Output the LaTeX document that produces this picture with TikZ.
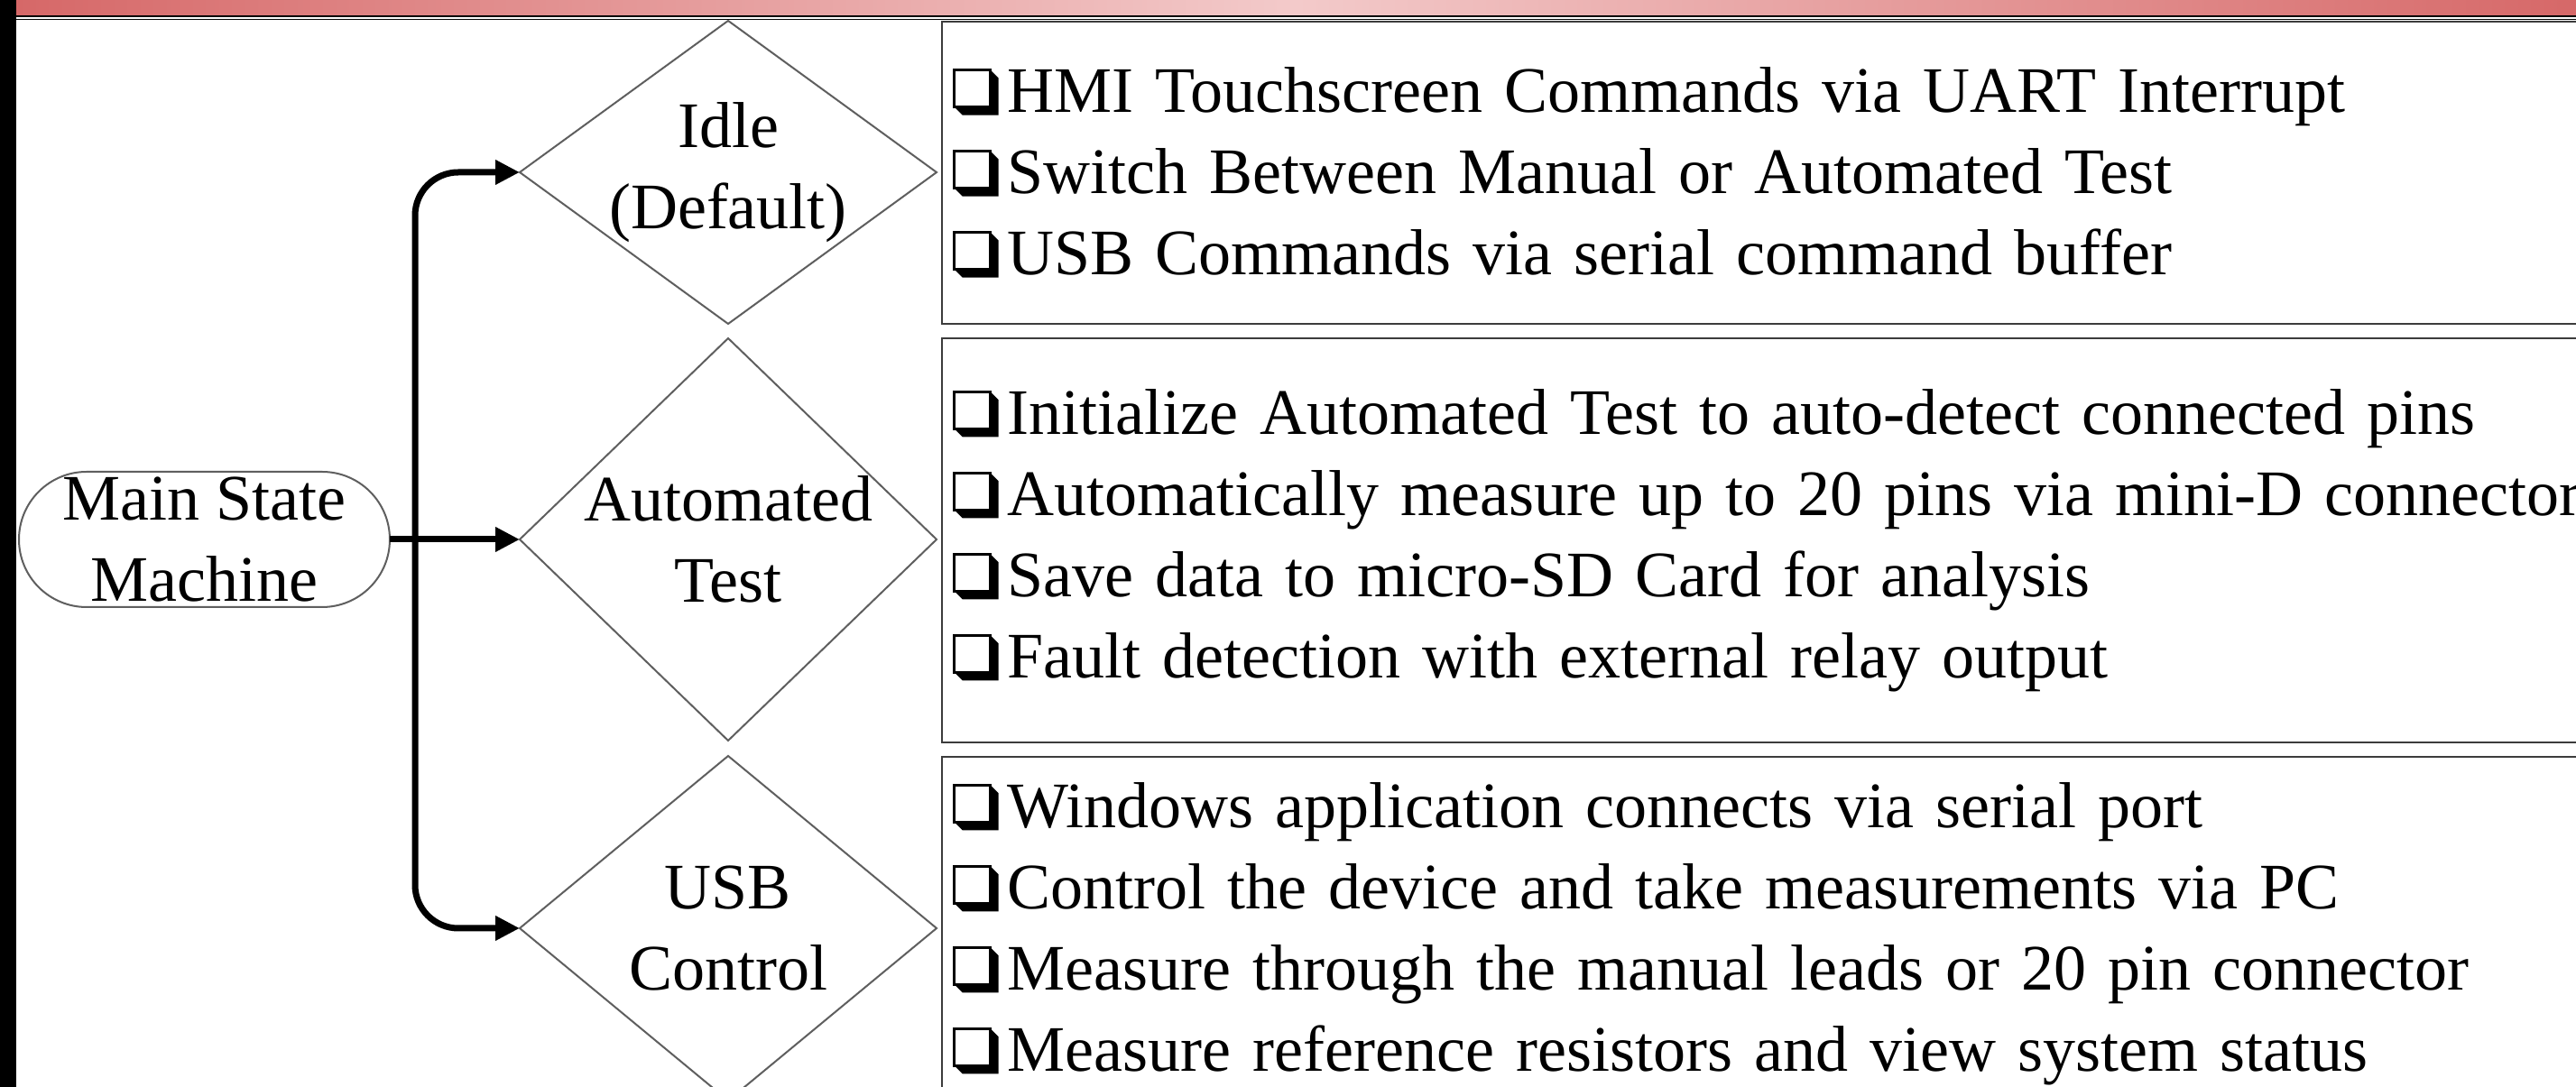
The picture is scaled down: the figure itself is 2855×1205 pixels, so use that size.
\documentclass[tikz,border=0pt]{standalone}
\usepackage{fontspec}
\setmainfont{Liberation Serif}
\usetikzlibrary{arrows.meta, positioning, shapes.geometric, shapes.misc}
\definecolor{barred}{RGB}{214,104,104}
\definecolor{barpink}{RGB}{243,202,202}
\definecolor{shapegray}{RGB}{95,95,95}
\definecolor{boxgray}{RGB}{60,60,60}
\newlength{\pxu}
\setlength{\pxu}{0.25pt}
\newcommand{\chkbox}{\tikz[baseline=0pt, x=\pxu, y=\pxu]{%
  \path (0,-4) rectangle (60,48);
  \fill[black] (1,6) -- (10,-3) -- (50,-3) -- (50,38) -- (41,47) -- (41,6) -- cycle;
  \draw[black, line width=3\pxu] (1,6) rectangle (41,47);}}

\begin{document}
\begin{tikzpicture}[x=\pxu, y=-\pxu,
    txt/.style={font=\fontsize{18}{22.5}\selectfont},
    state/.style={diamond, draw=shapegray, line width=0.5pt, inner sep=0pt, outer sep=0pt, minimum width=462\pxu},
    infobox/.style={rectangle, draw=boxgray, line width=0.6pt, anchor=north west, txt, align=left,
                    text width=2000\pxu, inner xsep=12\pxu, inner ysep=0pt},
    conn/.style={line width=1.75pt, -{Triangle[length=6.75pt, width=6.5pt]}}]
        \path[use as bounding box] (0,0) rectangle (2855,1205);
        \clip (0,0) rectangle (2855,1205);
        \fill[white] (0,0) rectangle (2855,1205);
        \shade[left color=barred, right color=barred, middle color=barpink] (18,0) rectangle (2855,17);
        \draw[black, line width=0.5pt] (18,18.5) -- (2855,18.5);
        \draw[black, line width=0.3pt] (18,21.5) -- (2855,21.5);
        \fill[black] (0,0) rectangle (18,1205);

        \node[rounded rectangle, draw=shapegray, line width=0.5pt, outer sep=0pt, inner sep=0pt,
              minimum width=411\pxu, minimum height=150\pxu, txt, align=center] (msm) at (226.5,598) {Main State\\Machine};

        \node[state, minimum height=336\pxu] (idle) at (807,191) {};
        \node[txt, align=center] (idle-t) at (idle) {Idle\\(Default)};
        \node[state, minimum height=446\pxu] (auto) at (807,598) {};
        \node[txt, align=center] (auto-t) at (auto) {Automated\\Test};
        \node[state, minimum height=382\pxu] (usb) at (807,1029) {};
        \node[txt, align=center] (usb-t) at (usb) {USB\\Control};

        \node[infobox, minimum height=335\pxu] (idle-box) at (1043,23)
          {\chkbox HMI Touchscreen Commands via UART Interrupt\\
           \chkbox Switch Between Manual or Automated Test\\
           \chkbox USB Commands via serial command buffer};
        \node[infobox, minimum height=448\pxu] (auto-box) at (1043,374)
          {\chkbox Initialize Automated Test to auto-detect connected pins\\
           \chkbox Automatically measure up to 20 pins via mini-D connector\\
           \chkbox Save data to micro-SD Card for analysis\\
           \chkbox Fault detection with external relay output};
        \node[infobox, minimum height=392\pxu] (usb-box) at (1043,838)
          {\chkbox Windows application connects via serial port\\
           \chkbox Control the device and take measurements via PC\\
           \chkbox Measure through the manual leads or 20 pin connector\\
           \chkbox Measure reference resistors and view system status};

        \coordinate (jn) at (460,598);
        \draw[conn] (msm.east) -- (auto.west);
        \draw[conn, rounded corners=12pt] (jn) |- (idle.west);
        \draw[conn, rounded corners=12pt] (jn) |- (usb.west);
      \end{tikzpicture}
\end{document}
